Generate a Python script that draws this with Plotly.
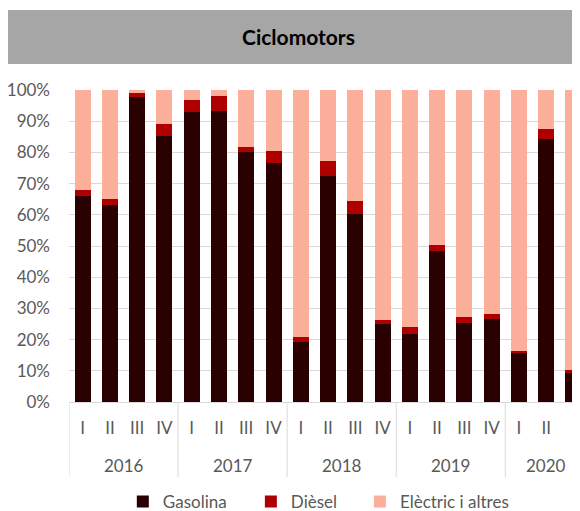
import plotly.graph_objects as go

# ---- data ----
years = ["2016", "2017", "2018", "2019", "2020"]
quarters_per_year = [4, 4, 4, 4, 3]
quarters = ["I", "II", "III", "IV", "I", "II", "III", "IV", "I", "II", "III", "IV",
            "I", "II", "III", "IV", "I", "II", "III"]
gasolina = [66.1, 63.0, 97.6, 85.3, 93.0, 93.4, 80.1, 76.7, 19.3, 72.5, 60.4, 25.0,
            21.9, 48.4, 25.3, 26.7, 16.0, 84.3, 9.6]
diesel = [1.7, 2.2, 1.5, 3.9, 3.8, 4.8, 1.6, 3.6, 1.4, 4.9, 4.0, 1.3,
          2.1, 1.8, 1.8, 1.6, 0.5, 3.2, 0.5]
electric = [32.2, 34.8, 0.9, 10.8, 3.2, 1.8, 18.3, 19.7, 79.3, 22.6, 35.6, 73.7,
            75.9, 49.8, 72.8, 71.7, 83.5, 12.5, 89.8]
series_names = ["Gasolina", "Dièsel", "Elèctric i altres"]
y_ticks = [0, 10, 20, 30, 40, 50, 60, 70, 80, 90, 100]
y_tick_labels = ["0%", "10%", "20%", "30%", "40%", "50%", "60%", "70%", "80%", "90%", "100%"]
title = "Ciclomotors"

# ---- style ----
colors = ["#2b0000", "#ae0000", "#fcaf9a"]
legend_text_left = [163, 291, 400]  # window px where each legend label starts
FONT = "Lato"
TXT = "#595959"
GRID = "#d9d9d9"

OFF = 8  # page body margin in the browser window
W, H = 580 - OFF, 520
PLOT_BOTTOM = 402 - OFF
L, T = 69.2 - OFF, 90 - OFF
B = H - PLOT_BOTTOM
plot_h = H - T - B
plot_w = W - L
def py(p):  # window pixel y -> paper y
    return (PLOT_BOTTOM - (p - OFF)) / plot_h
def px(p):  # window pixel x -> paper x
    return ((p - OFF) - L) / plot_w

legend_ids = ["legend", "legend2", "legend3"]
xs = list(range(len(quarters)))
fig = go.Figure()
for name, vals, c, lg in zip(series_names, [gasolina, diesel, electric], colors, legend_ids):
    fig.add_trace(go.Bar(x=xs, y=vals, name=name, marker=dict(color=c, line=dict(width=0)),
                         width=0.587, legend=lg))

# dividers and year labels
shapes = []
annotations = []
start = 0
for yr, n in zip(years, quarters_per_year):
    shapes.append(dict(type="line", xref="x", yref="paper", x0=start - 0.5, x1=start - 0.5,
                       y0=0, y1=py(477), line=dict(color=GRID, width=1)))
    annotations.append(dict(xref="x", yref="paper", x=start + (n - 1) / 2, y=py(465),
                            text=yr, showarrow=False, yanchor="middle",
                            font=dict(family=FONT, size=17, color=TXT)))
    start += n

# title bar
shapes.append(dict(type="rect", xref="paper", yref="paper", x0=px(8), x1=px(582),
                   y0=py(64), y1=py(10), fillcolor="#a6a6a6", line=dict(width=0), layer="below"))
annotations.append(dict(xref="paper", yref="paper", x=px(299), y=py(37), text="<b>" + title + "</b>",
                        showarrow=False, yanchor="middle", xanchor="center",
                        font=dict(family=FONT, size=21, color="#000000")))

legends = {}
for lg, tl in zip(legend_ids, legend_text_left):
    legends[lg] = dict(orientation="h", x=px(tl - 40), xanchor="left", y=py(502), yanchor="middle",
                       font=dict(family=FONT, size=17, color=TXT), itemclick=False,
                       bgcolor="rgba(0,0,0,0)", borderwidth=0)

fig.update_layout(
    width=W, height=H,
    margin=dict(l=L, r=0, t=T, b=B, pad=0, autoexpand=False),
    barmode="stack",
    bargap=0.4,
    plot_bgcolor="white", paper_bgcolor="white",
    font=dict(family=FONT, size=17, color=TXT),
    shapes=shapes, annotations=annotations,
    showlegend=True,
    xaxis=dict(range=[-0.5, 18.24], tickvals=xs, ticktext=quarters, showgrid=False,
               ticks="", ticklabelstandoff=11, showline=True, linecolor=GRID, linewidth=1,
               zeroline=False, tickfont=dict(family=FONT, size=17, color=TXT), fixedrange=True),
    yaxis=dict(range=[0, 100], tickvals=y_ticks, ticktext=y_tick_labels, showgrid=True,
               gridcolor=GRID, gridwidth=1, zeroline=False, showline=False, ticks="",
               ticklabelstandoff=18, tickfont=dict(family=FONT, size=17, color=TXT),
               fixedrange=True),
    **legends,
)

fig.write_html("out.html")
